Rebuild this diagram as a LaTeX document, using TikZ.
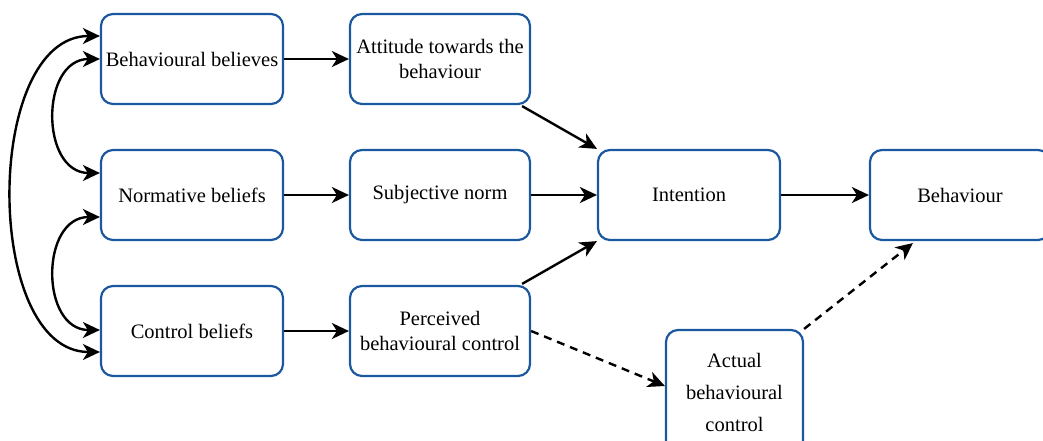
\documentclass[tikz,border=0pt]{standalone}
\usepackage{fontspec}
\setmainfont{Liberation Serif}
\usetikzlibrary{arrows.meta,calc}
\definecolor{boxblue}{RGB}{28,88,160}
\tikzset{
  tip/.tip={Stealth[length=17pt,width=16pt,inset=5pt]},
  box/.style={draw=boxblue, line width=2.2pt, rounded corners=12pt, fill=white,
    minimum width=182pt, minimum height=90pt, align=center, inner sep=4pt,
    font=\fontsize{20.5}{24.5}\selectfont},
  link/.style={line width=2.4pt, -tip},
  both/.style={line width=2.4pt, tip-tip},
  dashlink/.style={link, dash pattern=on 8pt off 6pt}
}
\begin{document}
\begin{tikzpicture}[x=1pt,y=-1pt]
\useasboundingbox (0,0) rectangle (1043,441);
\clip (0,0) rectangle (1043,441);
\fill[white] (0,0) rectangle (1043,441);

% belief boxes
\node[box] (bb) at (192,59) {Behavioural believes};
\node[box] (nb) at (192,195) {Normative beliefs};
\node[box] (cb) at (192,331) {Control beliefs};

% constructs
\node[box, minimum width=180pt] (att) at (440,59) {Attitude towards the\\behaviour};
\node[box, minimum width=180pt] (sn) at (440,195) {Subjective norm};
\node[box, minimum width=180pt] (pbc) at (440,331) {Perceived\\behavioural control};

\node[box] (int) at (689,195) {Intention};
\node[box, minimum width=180pt] (beh) at (960,195) {Behaviour};
\node[box, minimum width=137pt, minimum height=124pt,
      font=\fontsize{20.5}{32}\selectfont] (abc) at (734.5,392) {Actual\\behavioural\\control};

% forward paths
\draw[link] (bb.east) -- (att.west);
\draw[link] (nb.east) -- (sn.west);
\draw[link] (cb.east) -- (pbc.west);
\draw[link] ($(att.south east)+(-9,1)$) -- (int.north west);
\draw[link] (sn.east) -- (int.west);
\draw[link] ($(pbc.north east)+(-9,-1)$) -- (int.south west);
\draw[link] (int.east) -- (beh.west);
\draw[dashlink] (pbc.east) -- ($(abc.west)+(0,-6)$);
\draw[dashlink] (abc.north east) -- ($(beh.south west)+(44,2)$);

% correlations between beliefs
\draw[both] ($(bb.west)+(0,-23)$) .. controls (-17,36) and (-17,352) .. ($(cb.west)+(0,21)$);
\draw[both] (bb.west) .. controls (40,59) and (40,173) .. ($(nb.west)+(0,-22)$);
\draw[both] ($(nb.west)+(0,22)$) .. controls (40,217) and (40,330) .. ($(cb.west)+(0,-1)$);
\end{tikzpicture}
\end{document}
